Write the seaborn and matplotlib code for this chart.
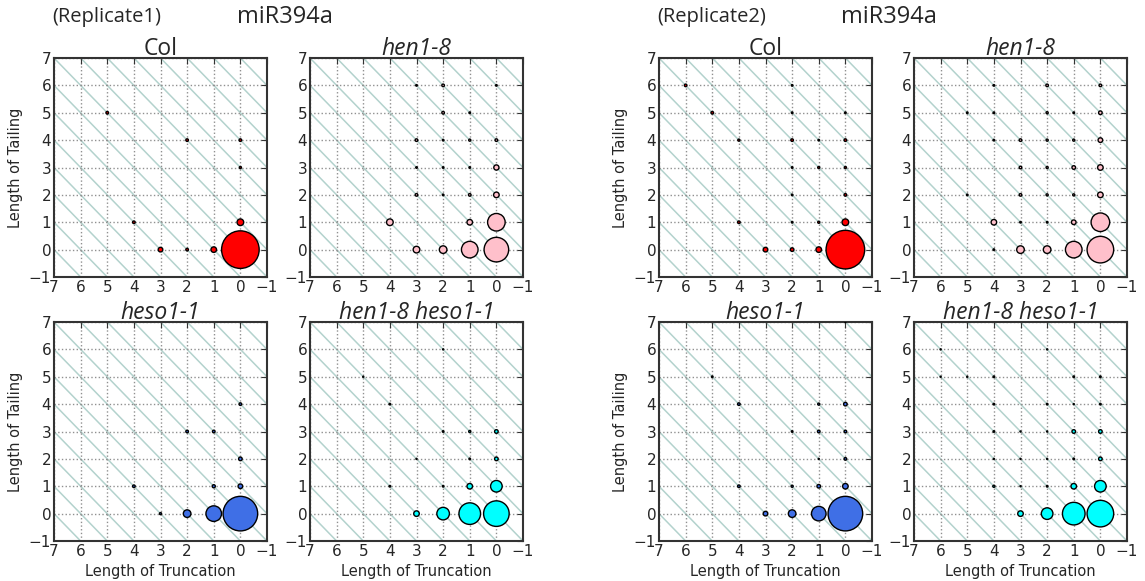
import matplotlib
matplotlib.use('Agg')
import pandas as pd
import matplotlib.pyplot as plt
import seaborn as sns

# Replicate 1 -- Col
r1_col_trunc = [0, 0, 1, 3, 2, 4, 5, 2, 0, 0]
r1_col_tail = [0, 1, 0, 0, 0, 1, 5, 4, 4, 3]
r1_col_pct = [73.2, 2.3, 1.6, 1.1, 0.35, 0.35, 0.35, 0.35, 0.35, 0.23]

# Replicate 1 -- hen1-8
r1_hen_trunc = [0, 1, 0, 2, 3, 4, 1, 0, 0, 0, 0, 1, 2, 3, 1, 2, 3, 1, 2, 3, 1, 2, 2, 3]
r1_hen_tail = [0, 0, 1, 0, 0, 1, 1, 2, 3, 4, 6, 2, 2, 2, 3, 3, 3, 4, 4, 4, 5, 5, 6, 6]
r1_hen_pct = [31.3, 14.3, 16.0, 3.0, 2.3, 2.3, 1.6, 1.6, 1.4, 0.35, 0.13, 0.35, 0.13, 0.35,
              0.13, 0.13, 0.13, 0.23, 0.13, 0.35, 0.13, 0.35, 0.35, 0.13]

# Replicate 1 -- heso1-1
r1_heso_trunc = [0, 1, 2, 3, 0, 1, 4, 0, 1, 2, 0]
r1_heso_tail = [0, 0, 0, 0, 1, 1, 1, 2, 3, 3, 4]
r1_heso_pct = [62.0, 12.6, 3.0, 0.23, 1.1, 0.5, 0.35, 0.67, 0.35, 0.35, 0.35]

# Replicate 1 -- hen1-8 heso1-1
r1_dbl_trunc = [0, 1, 2, 3, 0, 1, 2, 4, 0, 1, 3, 0, 1, 2, 4, 5, 2]
r1_dbl_tail = [0, 0, 0, 0, 1, 1, 1, 1, 2, 2, 2, 3, 3, 3, 4, 5, 6]
r1_dbl_pct = [33.9, 24.2, 8.2, 1.6, 7.0, 1.6, 0.13, 0.13, 0.67, 0.13, 0.06, 0.67, 0.23, 0.13,
              0.13, 0.06, 0.06]

# Replicate 2 -- Col
r2_col_trunc = [0, 0, 1, 3, 2, 1, 2, 4, 0, 2, 0, 1, 2, 0, 1, 2, 4, 0, 2, 5, 2, 6]
r2_col_tail = [0, 1, 0, 0, 0, 1, 1, 1, 2, 2, 3, 3, 3, 4, 4, 4, 4, 5, 5, 5, 6, 6]
r2_col_pct = [77.2, 2.3, 1.6, 1.1, 0.67, 0.23, 0.13, 0.35, 0.35, 0.13, 0.23, 0.23, 0.13,
              0.35, 0.13, 0.35, 0.23, 0.13, 0.13, 0.35, 0.13, 0.35]

# Replicate 2 -- hen1-8
r2_hen_trunc = [0, 1, 2, 3, 4, 0, 1, 2, 3, 4, 0, 1, 2, 3, 5, 0, 1, 2, 3,
                0, 1, 2, 3, 4, 0, 1, 2, 4, 5, 0, 2, 4]
r2_hen_tail = [0, 0, 0, 0, 0, 1, 1, 1, 1, 1, 2, 2, 2, 2, 2, 3, 3, 3, 3,
               4, 4, 4, 4, 4, 5, 5, 5, 5, 5, 6, 6, 6]
r2_hen_pct = [36.7, 14.3, 3.0, 3.0, 0.13, 17.9, 1.1, 0.13, 0.13, 1.6, 1.6, 0.23, 0.23, 0.35,
              0.13, 1.6, 0.67, 0.23, 0.35, 1.1, 0.23, 0.23, 0.35, 0.13, 0.67, 0.13, 0.23,
              0.13, 0.13, 0.35, 0.35, 0.13]

# Replicate 2 -- heso1-1
r2_heso_trunc = [0, 1, 2, 3, 0, 1, 2, 4, 0, 1, 0, 1, 2, 0, 1, 4, 5, 0]
r2_heso_tail = [0, 0, 0, 0, 1, 1, 1, 1, 2, 2, 3, 3, 3, 4, 4, 4, 5, 7]
r2_heso_pct = [62.0, 11.0, 3.0, 1.1, 1.6, 0.67, 0.23, 0.35, 0.35, 0.06, 0.35, 0.35, 0.13,
               0.67, 0.23, 0.35, 0.13, 0.06]

# Replicate 2 -- hen1-8 heso1-1
r2_dbl_trunc = [0, 1, 2, 3, 0, 1, 2, 3, 4, 0, 1, 2, 3, 4, 0, 1, 2, 3, 4,
                0, 1, 2, 4, 0, 1, 4, 5, 6, 2, 6]
r2_dbl_tail = [0, 0, 0, 0, 1, 1, 1, 1, 1, 2, 2, 2, 2, 2, 3, 3, 3, 3, 3,
               4, 4, 4, 4, 5, 5, 5, 5, 5, 6, 6]
r2_dbl_pct = [36.7, 26.5, 7.0, 1.6, 7.0, 1.6, 0.13, 0.06, 0.23, 0.67, 0.13, 0.06, 0.06, 0.06,
              0.67, 0.67, 0.06, 0.06, 0.13, 0.13, 0.06, 0.13, 0.13, 0.13, 0.13, 0.13, 0.06,
              0.06, 0.06, 0.06]

ticks = [7, 6, 5, 4, 3, 2, 1, 0, -1]

sns.set_style("white")
plt.rcParams['font.family'] = ['DejaVu Sans']
plt.rcParams['axes.unicode_minus'] = True

fig = plt.figure(figsize=(11.45, 5.81), dpi=100)

col_left = [54, 310, 659, 914]
row_top = [58, 322]
ax_w, ax_h = 213, 219


def draw_panel(ax, trunc, tail, pct, color, title, italic, xlabel, ylabel):
    df = pd.DataFrame({"trunc": trunc, "tail": tail, "pct": pct})
    # diagonal guide lines (constant net length change)
    for k in range(-8, 9):
        ax.axline((0, k), slope=1, color='#b3d2cd', lw=1.1, zorder=0)
    ax.grid(True, linestyle=':', color='#909090', linewidth=1, zorder=1)
    sns.scatterplot(data=df, x="trunc", y="tail", size="pct", sizes=(0, 1000),
                    size_norm=(0, 100), color=color, edgecolor='black',
                    linewidth=1, legend=False, ax=ax, zorder=3)
    ax.set_xlim(7, -1)
    ax.set_ylim(-1, 7)
    ax.set_xticks(ticks)
    ax.set_yticks(ticks)
    ax.tick_params(direction='in', length=4, top=True, right=True,
                   labelsize=11, pad=2, color='#333333')
    for sp in ax.spines.values():
        sp.set_color('#333333')
        sp.set_linewidth(1.5)
        sp.set_visible(True)
    ax.set_title(title, fontsize=16.5, style='italic' if italic else 'normal',
                 family='Open Sans', pad=2)
    ax.set_xlabel("Length of Truncation" if xlabel else "", fontsize=10.5)
    ax.set_ylabel("Length of Tailing" if ylabel else "", fontsize=10.5)
    ax.set_axisbelow(True)


panels = [
    (0, 0, r1_col_trunc, r1_col_tail, r1_col_pct, '#ff0000', "Col", False),
    (1, 0, r1_hen_trunc, r1_hen_tail, r1_hen_pct, '#ffc0cb', "hen1-8", True),
    (0, 1, r1_heso_trunc, r1_heso_tail, r1_heso_pct, '#3f6fe6', "heso1-1", True),
    (1, 1, r1_dbl_trunc, r1_dbl_tail, r1_dbl_pct, '#00ffff', "hen1-8 heso1-1", True),
    (2, 0, r2_col_trunc, r2_col_tail, r2_col_pct, '#ff0000', "Col", False),
    (3, 0, r2_hen_trunc, r2_hen_tail, r2_hen_pct, '#ffc0cb', "hen1-8", True),
    (2, 1, r2_heso_trunc, r2_heso_tail, r2_heso_pct, '#3f6fe6', "heso1-1", True),
    (3, 1, r2_dbl_trunc, r2_dbl_tail, r2_dbl_pct, '#00ffff', "hen1-8 heso1-1", True),
]

for c, r, tr, ta, pc, colr, title, italic in panels:
    left = col_left[c] / 1145
    bottom = 1 - (row_top[r] + ax_h) / 581
    ax = fig.add_axes([left, bottom, ax_w / 1145, ax_h / 581])
    draw_panel(ax, tr, ta, pc, colr, title, italic, xlabel=(r == 1), ylabel=(c in (0, 2)))

fig.text(107 / 1145, 1 - 17 / 581, "(Replicate1)", ha='center', va='center',
         fontsize=14.5, family='Open Sans')
fig.text(285 / 1145, 1 - 17 / 581, "miR394a", ha='center', va='center',
         fontsize=17, family='Open Sans')
fig.text(712 / 1145, 1 - 17 / 581, "(Replicate2)", ha='center', va='center',
         fontsize=14.5, family='Open Sans')
fig.text(889 / 1145, 1 - 17 / 581, "miR394a", ha='center', va='center',
         fontsize=17, family='Open Sans')

fig.savefig("out.png", dpi=100, facecolor='white')
